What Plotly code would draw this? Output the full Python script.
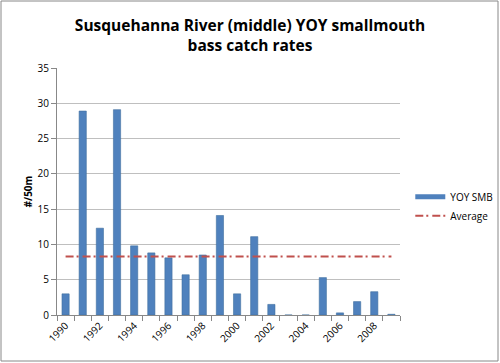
import plotly.graph_objects as go

years = list(range(1990, 2010))
yoy_smb = [3.0, 28.9, 12.3, 29.1, 9.8, 8.8, 8.1, 5.7, 8.5, 14.1,
           3.0, 11.1, 1.5, 0.0, 0.0, 5.3, 0.3, 1.9, 3.3, 0.1]
average = [8.3] * len(years)
tick_years = list(range(1990, 2010, 2))
y_ticks = [0, 5, 10, 15, 20, 25, 30, 35]

L, R, T, B = 57, 100, 68, 48
W, H = 500, 363
pw, ph = W - L - R, H - T - B

fig = go.Figure()
fig.add_trace(go.Bar(
    x=years, y=yoy_smb, name="YOY SMB", showlegend=False,
    marker=dict(color="#4F81BD", line=dict(color="#41709F", width=0.6)),
    width=0.42,
))
# legend entry drawn as a wide flat bar (like the spreadsheet legend)
fig.add_trace(go.Scatter(
    x=[None], y=[None], name="YOY SMB", mode="lines",
    line=dict(color="#4F81BD", width=5),
))
fig.add_trace(go.Scatter(
    x=years, y=average, name="Average", mode="lines",
    line=dict(color="#C0504D", width=2, dash="8px,3px,2px,4px"),
))

fig.update_layout(
    width=W, height=H,
    margin=dict(l=L, r=R, t=T, b=B, autoexpand=False),
    paper_bgcolor="white", plot_bgcolor="white",
    font=dict(family="Open Sans", size=10, color="#000000"),
    title=dict(
        text="<b>Susquehanna River (middle) YOY smallmouth<br>bass catch rates</b>",
        x=0.5, xanchor="center", y=0.914, yanchor="top",
        font=dict(family="Open Sans", size=15.5, color="#000000"),
    ),
    showlegend=True,
    legend=dict(x=1.03, y=0.44, xanchor="left", yanchor="middle",
                font=dict(size=10), bgcolor="rgba(0,0,0,0)",
                tracegroupgap=4, itemwidth=30),
    shapes=[dict(type="rect", xref="paper", yref="paper",
                 x0=(1 - L) / pw, x1=(W - 2 - L) / pw,
                 y0=-(H - 2 - (T + ph)) / ph, y1=(T + ph - 1) / ph,
                 line=dict(color="#888888", width=1), fillcolor="rgba(0,0,0,0)",
                 layer="below")],
)
fig.update_xaxes(
    automargin=False,
    range=[1989.5, 2009.5],
    tickmode="array", tickvals=tick_years, ticktext=[str(y) for y in tick_years],
    tickangle=-45, ticks="",
    showgrid=False, showline=True, linecolor="#888888", linewidth=1,
    minor=dict(ticks="outside", tick0=1989.5, dtick=1, ticklen=5,
               tickcolor="#888888", showgrid=False),
    tickfont=dict(size=10),
)
fig.update_yaxes(
    automargin=False,
    range=[0, 35], tickmode="array", tickvals=y_ticks,
    showgrid=True, gridcolor="#BFBFBF", gridwidth=1,
    showline=True, linecolor="#888888", linewidth=1,
    ticks="outside", ticklen=5, tickcolor="#888888",
    zeroline=False,
    title=dict(text="<b>#/50m</b>", font=dict(size=10), standoff=3),
    tickfont=dict(size=10),
)

fig.write_html("out.html",
               config={"displayModeBar": False},
               post_script="document.body.style.margin='0';document.body.style.overflow='hidden';")
